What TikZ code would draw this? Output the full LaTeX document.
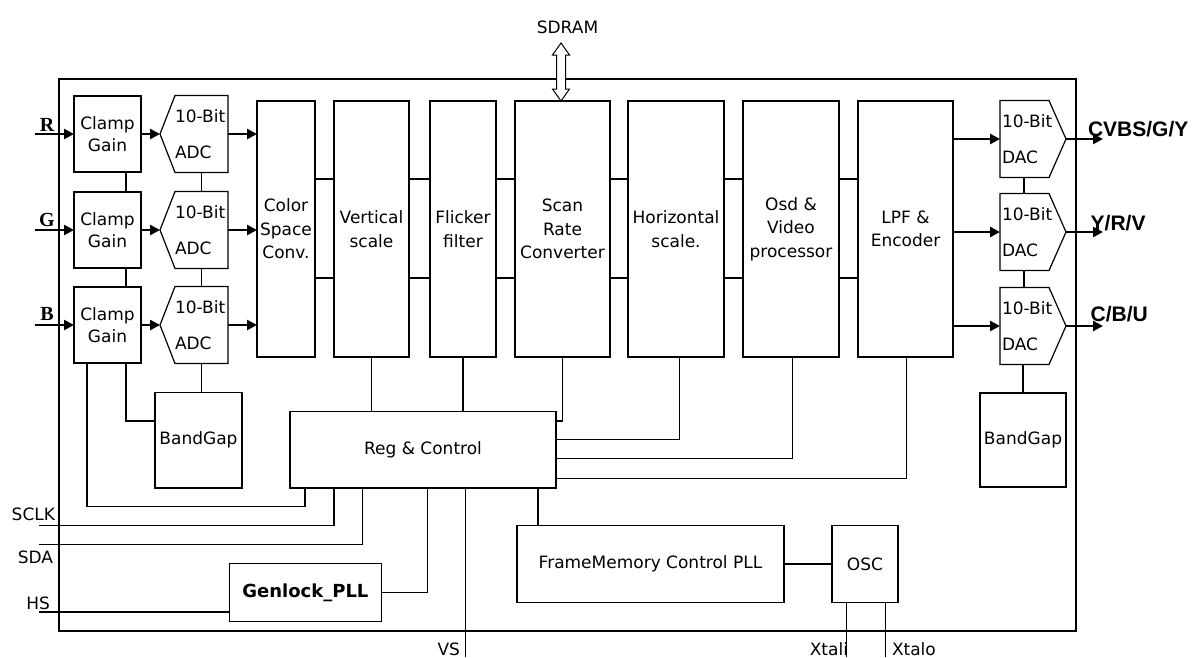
\documentclass[tikz,border=0pt]{standalone}
\usepackage{fontspec}
\setmainfont{DejaVu Sans}
\newfontfamily\rgbfont{Liberation Serif}
\newfontfamily\outfont{Liberation Sans}
\usetikzlibrary{arrows.meta,calc}
\begin{document}
\begin{tikzpicture}[x=1pt,y=-1pt,
  every node/.style={inner sep=0pt, outer sep=0pt},
  ln/.style={line width=1.2pt},
  blk/.style={draw, line width=1.2pt, font=\fontsize{17}{23.5}\selectfont, align=center},
  conv/.style={draw=none, font=\fontsize{17}{36}\selectfont, align=left, minimum height=77pt},
  sig/.style={line width=2.6pt, -{Triangle[length=10pt,width=10pt]}},
  lbl/.style={font=\fontsize{17}{20}\selectfont},
  inlbl/.style={font=\rgbfont\bfseries\fontsize{20}{20}\selectfont, anchor=base},
  outlbl/.style={font=\outfont\bfseries\fontsize{21}{21}\selectfont, anchor=base west}
]
\useasboundingbox (0,0) rectangle (1199,657);

% chip frame
\node[draw, line width=1.2pt, minimum width=1017pt, minimum height=552pt] (chip) at (567.5,355) {};

% clamp / gain
\node[blk, font=\fontsize{17}{21.5}\selectfont, minimum width=67pt, minimum height=76pt] (c1) at (107.5,134) {Clamp\\Gain};
\node[blk, font=\fontsize{17}{21.5}\selectfont, minimum width=67pt, minimum height=76pt] (c2) at (107.5,230) {Clamp\\Gain};
\node[blk, font=\fontsize{17}{21.5}\selectfont, minimum width=67pt, minimum height=76pt] (c3) at (107.5,325) {Clamp\\Gain};

% ADCs
\node[conv, text width=53pt] (a1) at (201.5,134) {10-Bit\\ADC};
\node[conv, text width=53pt] (a2) at (201.5,230) {10-Bit\\ADC};
\node[conv, text width=53pt] (a3) at (201.5,325) {10-Bit\\ADC};
\foreach \a in {a1,a2,a3}
  \draw[ln] (\a.north west) -- (\a.north east) -- (\a.south east) -- (\a.south west) -- ([xshift=-15pt]\a.west) -- cycle;

% processing chain
\node[blk, minimum width=58pt, minimum height=256pt] (csc) at (286,229) {Color\\Space\\Conv.};
\node[blk, minimum width=75pt, minimum height=256pt] (vsc) at (371.5,229) {Vertical\\scale};
\node[blk, minimum width=66pt, minimum height=256pt] (ff) at (463,229) {Flicker\\filter};
\node[blk, minimum width=95pt, minimum height=256pt] (src) at (562.5,229) {Scan\\Rate\\Converter};
\node[blk, minimum width=96pt, minimum height=256pt] (hsc) at (676,229) {Horizontal\\scale.};
\node[blk, minimum width=96pt, minimum height=256pt] (osd) at (791,229) {Osd \&\\Video\\processor};
\node[blk, minimum width=95pt, minimum height=256pt] (lpf) at (905.5,229) {LPF \&\\Encoder};

% DACs
\node[conv, text width=62pt, inner xsep=2pt] (d1) at (1033,139) {10-Bit\\DAC};
\node[conv, text width=62pt, inner xsep=2pt] (d2) at (1033,232) {10-Bit\\DAC};
\node[conv, text width=62pt, inner xsep=2pt] (d3) at (1033,326) {10-Bit\\DAC};
\foreach \d in {d1,d2,d3}
  \draw[ln] (\d.north west) -- ([xshift=-17pt]\d.north east) -- (\d.east) -- ([xshift=-17pt]\d.south east) -- (\d.south west) -- cycle;

% lower blocks
\node[blk, minimum width=87pt, minimum height=95.5pt] (bgl) at (198.5,440.25) {BandGap};
\node[blk, minimum width=86pt, minimum height=94pt] (bgr) at (1023,440) {BandGap};
\node[blk, minimum width=266pt, minimum height=76.3pt] (reg) at (423,449.85) {Reg \& Control};
\node[blk, font=\bfseries\fontsize{18}{20}\selectfont, minimum width=152.2pt, minimum height=58.4pt] (gen) at (305.4,592.5) {Genlock\_PLL};
\node[blk, minimum width=267pt, minimum height=76.6pt] (fm) at (650.5,564) {FrameMemory Control PLL};
\node[blk, minimum width=66pt, minimum height=76.6pt] (osc) at (865,564) {OSC};

% free ends
\coordinate (rin) at (35,134);
\coordinate (gin) at (35,230);
\coordinate (bin) at (35,325);
\coordinate (o1) at (1103,139);
\coordinate (o2) at (1103,232);
\coordinate (o3) at (1103,326);
\coordinate (sclk) at (39,525.7);
\coordinate (sda) at (39,544.3);
\coordinate (hs) at (39,612);
\coordinate (vs) at (465.7,657);
\coordinate (xi) at (846.4,657);
\coordinate (xo) at (885.7,657);
\coordinate (sdt) at (561,43);

% labels
\node[inlbl] (lr) at (47,131.7) {R};
\node[inlbl] (lg) at (47,226) {G};
\node[inlbl] (lb) at (47,320) {B};
\node[outlbl] (l1) at (1088,136.7) {CVBS/G/Y};
\node[outlbl] (l2) at (1090.7,230) {Y/R/V};
\node[outlbl] (l3) at (1090.7,321.7) {C/B/U};
\node[lbl, anchor=base east] (lsclk) at (55,520) {SCLK};
\node[lbl, anchor=base east] (lsda) at (53,563) {SDA};
\node[lbl, anchor=base east] (lhs) at (50,609) {HS};
\node[lbl, anchor=base east] (lvs) at (460,655) {VS};
\node[lbl, anchor=base east] (lxi) at (848,655) {Xtali};
\node[lbl, anchor=base west] (lxo) at (892,655) {Xtalo};
\node[lbl, anchor=base] (lsd) at (567.5,33) {SDRAM};

% signal arrows
\draw[sig] (rin) -- (c1.west);
\draw[sig] (gin) -- (c2.west);
\draw[sig] (bin) -- (c3.west);
\foreach \c/\a in {c1/a1,c2/a2,c3/a3} {
  \draw[sig] (\c.east) -- ([xshift=-15pt]\a.west);
  \draw[sig] (\a.east) -- (\a.east -| csc.west);
}
\foreach \d/\o in {d1/o1,d2/o2,d3/o3} {
  \draw[sig] (\d.west -| lpf.east) -- (\d.west);
  \draw[sig] (\d.east) -- (\o);
}

% vertical chains
\draw[ln] ([xshift=18.5pt]c1.south) -- ([xshift=18.5pt]c2.north);
\draw[ln] ([xshift=18.5pt]c2.south) -- ([xshift=18.5pt]c3.north);
\draw[ln] (a1.south) -- (a2.north);
\draw[ln] (a2.south) -- (a3.north);
\draw[ln] (a3.south) -- (a3.south |- bgl.north);
\draw[ln] ([xshift=-9pt]d1.south) -- ([xshift=-9pt]d2.north);
\draw[ln] ([xshift=-9pt]d2.south) -- ([xshift=-9pt]d3.north);
\draw[ln] (bgr.north |- d3.south) -- (bgr.north);

% horizontal chain links
\foreach \p/\q in {csc/vsc,vsc/ff,ff/src,src/hsc,hsc/osd,osd/lpf} {
  \draw[ln] ([yshift=50pt]\p.east) -- ([yshift=50pt]\q.west);
  \draw[ln] ([yshift=-49pt]\p.east) -- ([yshift=-49pt]\q.west);
}

% clamp to bandgap / reg
\draw[ln] ([xshift=18.5pt]c3.south) |- ([yshift=19.25pt]bgl.west);
\draw[ln] ([xshift=-20.5pt]c3.south) |- ([xshift=15pt,yshift=-18.7pt]reg.south west) -- ([xshift=15pt]reg.south west);

% chain to reg
\draw[ln] (vsc.south) -- (vsc.south |- reg.north);
\draw[ln] (ff.south) -- (ff.south |- reg.north);
\draw[ln] (src.south) |- ([yshift=-9.3pt]reg.north east);
\draw[ln] ([xshift=3.3pt]hsc.south) |- ([yshift=10.55pt]reg.east);
\draw[ln] ([xshift=1.7pt]osd.south) |- ([yshift=-8.45pt]reg.east);
\draw[ln] ([xshift=1.2pt]lpf.south) |- ([yshift=-28.45pt]reg.east);

% control signals
\draw[ln] (sclk) -| ([xshift=44pt]reg.south west);
\draw[ln] (sda) -| ([xshift=72.4pt]reg.south west);
\draw[ln] (hs) -- (hs -| gen.west);
\draw[ln] (gen.east) -| ([xshift=137.5pt]reg.south west);
\draw[ln] (vs |- reg.south) -- (vs);
\draw[ln] ([xshift=21pt]fm.north west |- reg.south) -- ([xshift=21pt]fm.north west);
\draw[ln] (fm.east) -- (osc.west);
\draw[ln] (xi |- osc.south) -- (xi);
\draw[ln] (xo |- osc.south) -- (xo);

% SDRAM double arrow
\draw[line width=1pt, fill=white] (sdt) -- ++(8.5,12) -- ++(-4,0) -- ++(0,34) -- ++(4,0) -- (sdt |- src.north) -- ++(-8.5,-12) -- ++(4,0) -- ++(0,-34) -- ++(-4,0) -- cycle;
\end{tikzpicture}
\end{document}
